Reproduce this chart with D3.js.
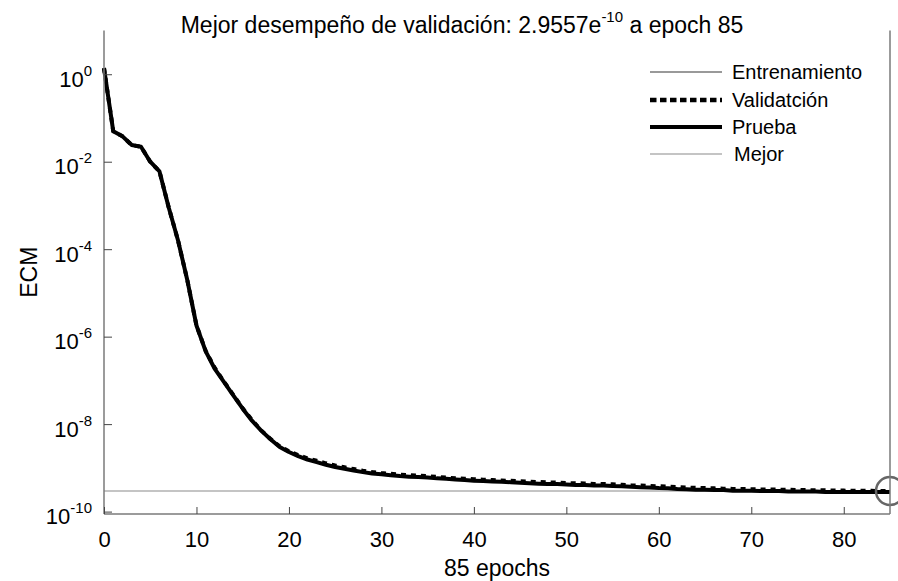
<!DOCTYPE html>
<html>
<head>
<meta charset="utf-8">
<script src="https://cdn.jsdelivr.net/npm/d3@7"></script>
<style>
  html, body { margin: 0; padding: 0; background: #fff; }
  svg { display: block; font-family: "Liberation Sans", Arial, Helvetica, sans-serif; }
</style>
</head>
<body>
<svg id="chart" width="898" height="581"></svg>
<script>
// Epoch index 0..85
const epochs = d3.range(0, 86);

// Mean squared error per epoch (log-scale values)
const trainPerf = [
  1.35e0, 4.8e-2, 3.7e-2, 2.5e-2, 2.1e-2, 9.5e-3, 6.0e-3, 8.5e-4, 1.5e-4, 1.8e-5,
  1.7e-6, 4.6e-7, 1.8e-7, 9.0e-8, 4.4e-8, 2.2e-8, 1.2e-8, 7.0e-9, 4.4e-9, 3.0e-9,
  2.3e-9, 1.85e-9, 1.55e-9, 1.35e-9, 1.18e-9, 1.05e-9, 9.5e-10, 8.7e-10, 8.0e-10, 7.4e-10,
  7.1e-10, 6.8e-10, 6.5e-10, 6.3e-10, 6.15e-10, 6.0e-10, 5.75e-10, 5.6e-10, 5.4e-10, 5.25e-10,
  5.1e-10, 5.0e-10, 4.9e-10, 4.8e-10, 4.7e-10, 4.55e-10, 4.45e-10, 4.35e-10, 4.25e-10, 4.25e-10,
  4.15e-10, 4.05e-10, 4.05e-10, 3.95e-10, 3.95e-10, 3.85e-10, 3.8e-10, 3.7e-10, 3.6e-10, 3.55e-10,
  3.45e-10, 3.4e-10, 3.3e-10, 3.25e-10, 3.15e-10, 3.15e-10, 3.1e-10, 3.1e-10, 3.0e-10, 3.0e-10,
  3.0e-10, 2.95e-10, 2.95e-10, 2.95e-10, 2.88e-10, 2.88e-10, 2.88e-10, 2.88e-10, 2.82e-10, 2.82e-10,
  2.82e-10, 2.82e-10, 2.82e-10, 2.82e-10, 2.82e-10, 2.82e-10
];
const valPerf = [
  1.38e0, 5.0e-2, 3.8e-2, 2.4e-2, 2.2e-2, 1.0e-2, 6.0e-3, 9.0e-4, 1.6e-4, 2.0e-5,
  1.8e-6, 4.7e-7, 1.9e-7, 9.2e-8, 4.6e-8, 2.3e-8, 1.25e-8, 7.2e-9, 4.6e-9, 3.1e-9,
  2.4e-9, 1.95e-9, 1.65e-9, 1.45e-9, 1.27e-9, 1.13e-9, 1.03e-9, 9.4e-10, 8.6e-10, 8.0e-10,
  7.6e-10, 7.3e-10, 7.0e-10, 6.8e-10, 6.6e-10, 6.45e-10, 6.2e-10, 6.0e-10, 5.8e-10, 5.65e-10,
  5.5e-10, 5.35e-10, 5.25e-10, 5.15e-10, 5.05e-10, 4.95e-10, 4.85e-10, 4.75e-10, 4.65e-10, 4.6e-10,
  4.5e-10, 4.45e-10, 4.4e-10, 4.3e-10, 4.3e-10, 4.2e-10, 4.1e-10, 4.0e-10, 3.95e-10, 3.85e-10,
  3.8e-10, 3.7e-10, 3.65e-10, 3.55e-10, 3.5e-10, 3.45e-10, 3.4e-10, 3.35e-10, 3.3e-10, 3.28e-10,
  3.25e-10, 3.22e-10, 3.2e-10, 3.18e-10, 3.15e-10, 3.12e-10, 3.1e-10, 3.08e-10, 3.06e-10, 3.04e-10,
  3.02e-10, 3.0e-10, 2.99e-10, 2.98e-10, 2.97e-10, 2.9557e-10
];
const testPerf = [
  1.38e0, 5.0e-2, 3.8e-2, 2.4e-2, 2.2e-2, 1.0e-2, 6.0e-3, 9.0e-4, 1.6e-4, 2.0e-5,
  1.8e-6, 4.6e-7, 1.8e-7, 9.0e-8, 4.5e-8, 2.25e-8, 1.2e-8, 7.1e-9, 4.5e-9, 3.0e-9,
  2.3e-9, 1.86e-9, 1.55e-9, 1.35e-9, 1.18e-9, 1.05e-9, 9.5e-10, 8.7e-10, 8.0e-10, 7.4e-10,
  7.1e-10, 6.8e-10, 6.5e-10, 6.3e-10, 6.15e-10, 6.0e-10, 5.75e-10, 5.6e-10, 5.4e-10, 5.25e-10,
  5.1e-10, 5.0e-10, 4.9e-10, 4.8e-10, 4.7e-10, 4.55e-10, 4.45e-10, 4.35e-10, 4.25e-10, 4.25e-10,
  4.15e-10, 4.05e-10, 4.05e-10, 3.95e-10, 3.95e-10, 3.85e-10, 3.8e-10, 3.7e-10, 3.6e-10, 3.55e-10,
  3.45e-10, 3.4e-10, 3.3e-10, 3.25e-10, 3.15e-10, 3.15e-10, 3.1e-10, 3.1e-10, 3.0e-10, 3.0e-10,
  3.0e-10, 2.95e-10, 2.95e-10, 2.95e-10, 2.88e-10, 2.88e-10, 2.88e-10, 2.88e-10, 2.82e-10, 2.82e-10,
  2.82e-10, 2.82e-10, 2.82e-10, 2.82e-10, 2.82e-10, 2.82e-10
];

const bestEpoch = 85;
const bestPerf = 2.9557e-10;

const xTicks = [0, 10, 20, 30, 40, 50, 60, 70, 80];
const yTickExponents = [0, -2, -4, -6, -8, -10];

const legendLabels = ["Entrenamiento", "Validatción", "Prueba", "Mejor"];

const titleMain = "Mejor desempeño de validación: 2.9557e";
const titleExp = "-10";
const titleTail = " a epoch 85";
const xLabel = "85 epochs";
const yLabel = "ECM";

// ---------------------------------------------------------------
const svg = d3.select("#chart");
const plotL = 104, plotR = 890, plotT = 30.5, plotB = 514;
const axisGrey = "#7a7a7a";

const x = d3.scaleLinear().domain([0, 85]).range([plotL, plotR]);
const y = d3.scaleLog().domain([10, Math.pow(10, -10.055)]).range([plotT, plotB]);

// best-performance reference line
svg.append("line")
  .attr("x1", plotL).attr("x2", plotR)
  .attr("y1", y(bestPerf)).attr("y2", y(bestPerf))
  .attr("stroke", "#8a8a8a").attr("stroke-width", 1.2);

const line = d3.line().x((d, i) => x(epochs[i])).y(d => y(d));

svg.append("path").datum(trainPerf).attr("d", line)
  .attr("fill", "none").attr("stroke", "#777").attr("stroke-width", 1.3);
svg.append("path").datum(testPerf).attr("d", line)
  .attr("fill", "none").attr("stroke", "#000").attr("stroke-width", 4)
  .attr("stroke-linejoin", "round");
svg.append("path").datum(valPerf).attr("d", line)
  .attr("fill", "none").attr("stroke", "#000").attr("stroke-width", 4)
  .attr("stroke-dasharray", "5 5");

// best epoch marker
svg.append("circle")
  .attr("cx", x(bestEpoch)).attr("cy", y(bestPerf)).attr("r", 14)
  .attr("fill", "none").attr("stroke", "#666").attr("stroke-width", 2.5);

// axes frame (left, bottom, right)
const frame = svg.append("g").attr("stroke", axisGrey).attr("stroke-width", 1.5);
frame.append("line").attr("x1", plotL).attr("x2", plotL).attr("y1", plotT).attr("y2", plotB);
frame.append("line").attr("x1", plotL).attr("x2", plotR).attr("y1", plotB).attr("y2", plotB);
frame.append("line").attr("x1", plotR).attr("x2", plotR).attr("y1", plotT).attr("y2", plotB);

// x axis ticks and labels
const xAxis = d3.axisBottom(x).tickValues(xTicks).tickSizeInner(-7).tickSizeOuter(0).tickPadding(17);
const gx = svg.append("g").attr("transform", `translate(0,${plotB})`).call(xAxis);
gx.select(".domain").remove();
gx.selectAll(".tick line").attr("stroke", "#444").attr("stroke-width", 1);
gx.selectAll(".tick text").attr("font-size", 22).attr("fill", "#000")
  .attr("font-family", "Liberation Sans, Arial, sans-serif");

// y axis ticks with power-of-ten labels
const yTickVals = yTickExponents.map(e => Math.pow(10, e));
const yAxis = d3.axisLeft(y).tickValues(yTickVals).tickSizeInner(-8).tickSizeOuter(0).tickFormat("");
const gy = svg.append("g").attr("transform", `translate(${plotL},0)`).call(yAxis);
gy.select(".domain").remove();
gy.selectAll(".tick line").attr("stroke", "#444").attr("stroke-width", 1);
gy.selectAll(".tick").each(function(d, i) {
  const t = d3.select(this).append("text")
    .attr("x", -12).attr("y", 12)
    .attr("text-anchor", "end").attr("fill", "#000")
    .attr("font-size", 22)
    .attr("font-family", "Liberation Sans, Arial, sans-serif");
  t.append("tspan").text("10");
  t.append("tspan").attr("font-size", 15).attr("dy", -11).text(String(yTickExponents[i]));
});

// title
const title = svg.append("text")
  .attr("x", 462).attr("y", 33).attr("text-anchor", "middle")
  .attr("font-size", 23).attr("fill", "#000");
title.append("tspan").text(titleMain);
title.append("tspan").attr("font-size", 15).attr("dy", -11).text(titleExp);
title.append("tspan").attr("dy", 11).text(titleTail);

// axis labels
svg.append("text").attr("x", (plotL + plotR) / 2).attr("y", 576)
  .attr("text-anchor", "middle").attr("font-size", 23).attr("fill", "#000").text(xLabel);
svg.append("text").attr("transform", `translate(37,${(plotT + plotB) / 2}) rotate(-90)`)
  .attr("text-anchor", "middle").attr("font-size", 23).attr("fill", "#000").text(yLabel);

// legend
const legendStyles = [
  { stroke: "#777", width: 1.3, dash: null },
  { stroke: "#000", width: 4.5, dash: "6.5 3.5" },
  { stroke: "#000", width: 4, dash: null },
  { stroke: "#8a8a8a", width: 1.2, dash: null }
];
const legendY = [72, 100, 127, 154];
const lg = svg.append("g");
legendLabels.forEach((lab, i) => {
  const s = legendStyles[i];
  lg.append("line").attr("x1", 650).attr("x2", 722)
    .attr("y1", legendY[i]).attr("y2", legendY[i])
    .attr("stroke", s.stroke).attr("stroke-width", s.width)
    .attr("stroke-dasharray", s.dash);
  lg.append("text").attr("x", i === 3 ? 734 : 732).attr("y", legendY[i] + 7)
    .attr("font-size", 20).attr("fill", "#000").text(lab);
});
</script>
</body>
</html>
